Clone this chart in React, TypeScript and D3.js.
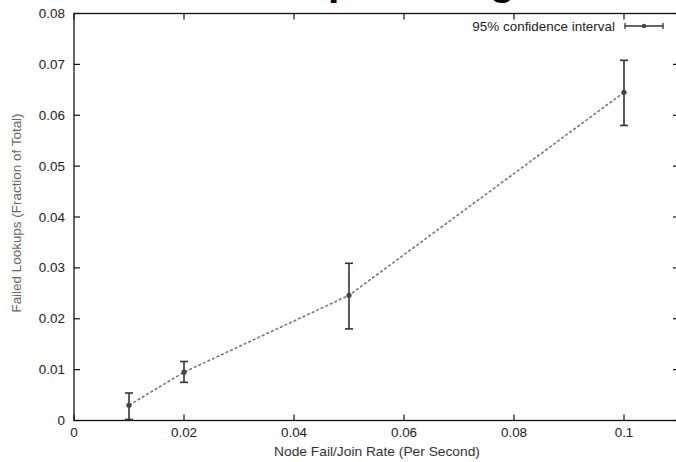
import React from "react";
import * as d3 from "d3";

// failure rate (per second) vs fraction of failed lookups, with 95% CI
const rates = [0.01, 0.02, 0.05, 0.1];
const failed = [0.003, 0.0095, 0.0246, 0.0645];
const ciLow = [0.0002, 0.0075, 0.018, 0.058];
const ciHigh = [0.0054, 0.0116, 0.0309, 0.0708];

const xTicks = [0, 0.02, 0.04, 0.06, 0.08, 0.1];
const xTickLabels = ["0", "0.02", "0.04", "0.06", "0.08", "0.1"];
const yTicks = [0, 0.01, 0.02, 0.03, 0.04, 0.05, 0.06, 0.07, 0.08];
const yTickLabels = ["0", "0.01", "0.02", "0.03", "0.04", "0.05", "0.06", "0.07", "0.08"];

const title = "Lookups during Churn";
const legendLabel = "95% confidence interval";
const xTitle = "Node Fail/Join Rate (Per Second)";
const yTitle = "Failed Lookups (Fraction of Total)";

const W = 676;
const H = 462;
const margin = { top: 13.5, right: -3, bottom: 41.5, left: 74 };
const font = "'Liberation Sans', Arial, Helvetica, sans-serif";
const stretch = 1.12; // the original glyphs are a bit wider than Arial

const App = () => {
  const x = d3.scaleLinear().domain([0, 0.11]).range([margin.left, W - margin.right]);
  const y = d3.scaleLinear().domain([0, 0.08]).range([H - margin.bottom, margin.top]);
  const [x0, x1] = x.range();
  const [y0, y1] = y.range();
  const tick = 6;

  const line = d3
    .line<number>()
    .x((d, i) => x(rates[i]))
    .y((d) => y(d));

  const cap = 4;
  const lx0 = 625, lx1 = 663, ly = 26; // legend sample

  return (
    <svg
      width={W}
      height={H}
      style={{ position: "absolute", top: 0, left: 0, background: "#fff" }}
      fontFamily={font}
    >
      <text x={205} y={-5} fontSize={41} fontWeight="bold" fill="#000" fontFamily={font}>
        {title}
      </text>

      {/* frame */}
      <rect x={x0} y={y1} width={x1 - x0} height={y0 - y1} fill="none" stroke="#111" strokeWidth={1.3} />

      {xTicks.map((t, i) => (
        <g key={"x" + i}>
          <line x1={x(t)} x2={x(t)} y1={y0} y2={y0 - tick} stroke="#111" strokeWidth={1.2} />
          <line x1={x(t)} x2={x(t)} y1={y1} y2={y1 + tick} stroke="#111" strokeWidth={1.2} />
          <text
            transform={`translate(${x(t)},${y0 + 16.5}) scale(${stretch},1)`}
            textAnchor="middle"
            fontSize={12}
            fill="#222"
          >
            {xTickLabels[i]}
          </text>
        </g>
      ))}
      {yTicks.map((t, i) => (
        <g key={"y" + i}>
          <line x1={x0} x2={x0 + tick} y1={y(t)} y2={y(t)} stroke="#111" strokeWidth={1.2} />
          <line x1={x1} x2={x1 - tick} y1={y(t)} y2={y(t)} stroke="#111" strokeWidth={1.2} />
          <text
            transform={`translate(${x0 - 9},${y(t) + 4.5}) scale(${stretch},1)`}
            textAnchor="end"
            fontSize={12}
            fill="#222"
          >
            {yTickLabels[i]}
          </text>
        </g>
      ))}

      <text
        transform={`translate(377,456) scale(${stretch},1)`}
        textAnchor="middle"
        fontSize={12.3}
        fill="#333"
      >
        {xTitle}
      </text>
      <text
        transform={`translate(21,213) rotate(-90) scale(${stretch},1)`}
        textAnchor="middle"
        fontSize={12}
        fill="#666"
      >
        {yTitle}
      </text>

      {/* data line */}
      <path d={line(failed) || ""} fill="none" stroke="#777" strokeWidth={1.6} strokeDasharray="3,2" />

      {/* error bars */}
      {rates.map((r, i) => (
        <g key={"e" + i} stroke="#333" strokeWidth={1.6}>
          <line x1={x(r)} x2={x(r)} y1={y(ciLow[i])} y2={y(ciHigh[i])} />
          <line x1={x(r) - cap} x2={x(r) + cap} y1={y(ciLow[i])} y2={y(ciLow[i])} />
          <line x1={x(r) - cap} x2={x(r) + cap} y1={y(ciHigh[i])} y2={y(ciHigh[i])} />
        </g>
      ))}
      {rates.map((r, i) => (
        <circle key={"p" + i} cx={x(r)} cy={y(failed[i])} r={2.6} fill="#444" />
      ))}

      {/* legend */}
      <text
        transform={`translate(615,30.5) scale(${stretch},1)`}
        textAnchor="end"
        fontSize={12}
        fill="#222"
      >
        {legendLabel}
      </text>
      <g stroke="#333" strokeWidth={1.3}>
        <line x1={lx0} x2={lx1} y1={ly} y2={ly} />
        <line x1={lx0} x2={lx0} y1={ly - 3} y2={ly + 3} />
        <line x1={lx1} x2={lx1} y1={ly - 3} y2={ly + 3} />
      </g>
      <circle cx={(lx0 + lx1) / 2} cy={ly} r={2.2} fill="#444" />
    </svg>
  );
};

export default App;
